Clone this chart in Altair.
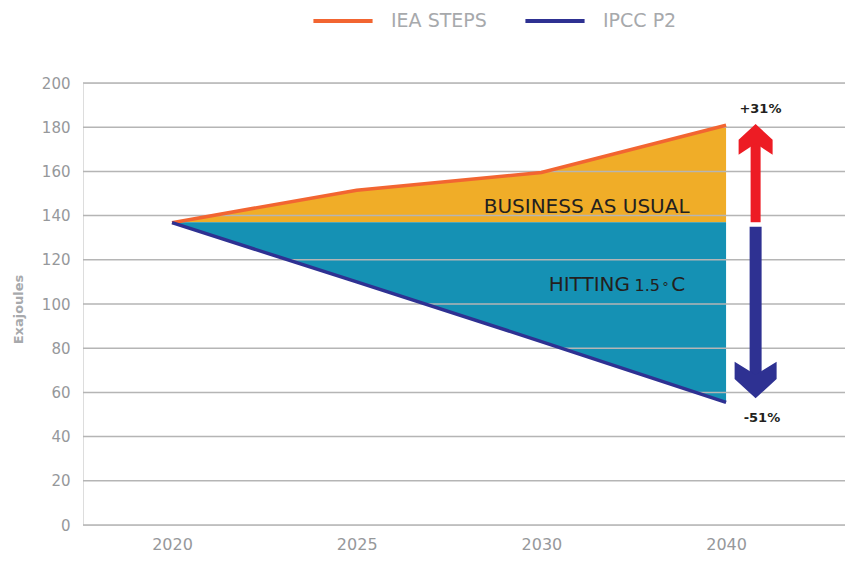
import altair as alt
import pandas as pd

years = ["2020", "2025", "2030", "2040"]
iea_steps = [136.8, 151.5, 159.5, 180.9]
ipcc_p2 = [136.8, 110, 83, 55.5]
baseline = 137
y_ticks = [0, 20, 40, 60, 80, 100, 120, 140, 160, 180, 200]
series_names = ["IEA STEPS", "IPCC P2"]
series_colors = ["#F26531", "#2E3192"]
change_labels = ["+31%", "-51%"]

FONT = "DejaVu Sans"
GRAY = "#96989B"
DARK = "#231F20"

idx = list(range(len(years)))
lines_df = pd.DataFrame(
    {"idx": idx * 2, "value": iea_steps + ipcc_p2,
     "series": [series_names[0]] * len(years) + [series_names[1]] * len(years)}
)
band_df = pd.DataFrame({"idx": idx, "iea": iea_steps, "ipcc": ipcc_p2, "base": [baseline] * len(years)})
grid_df = pd.DataFrame({"y": y_ticks})

x_scale = alt.Scale(domain=[-0.482, 3.644], nice=False, zero=False)
y_scale = alt.Scale(domain=[0, 200], nice=False)

label_expr = "[" + ",".join(f"'{y}'" for y in years) + "][datum.value]"

x_enc = alt.X("idx:Q", scale=x_scale,
              axis=alt.Axis(values=idx, labelExpr=label_expr, grid=False, domain=False, ticks=False,
                            labelFont=FONT, labelFontSize=16, labelColor=GRAY,
                            labelPadding=11, title=None))

orange_area = alt.Chart(band_df).mark_area(color="#F0AD28", opacity=1).encode(
    x=x_enc,
    y=alt.Y("iea:Q", scale=y_scale,
            axis=alt.Axis(values=y_ticks, grid=False, domain=False, ticks=False,
                          labelFont=FONT, labelFontSize=15, labelColor=GRAY,
                          labelPadding=13, title="Exajoules", titleFont=FONT, titleFontSize=13,
                          titleFontWeight="bold", titleColor="#A7A9AC", titleAngle=270,
                          titleAlign="center", titleBaseline="middle",
                          titleX=-65, titleY=226)),
    y2="base:Q",
)
teal_area = alt.Chart(band_df).mark_area(color="#1591B4", opacity=1).encode(
    x="idx:Q", y="ipcc:Q", y2="base:Q"
)

grid = alt.Chart(grid_df).mark_rule(color="#B5B5B5", strokeWidth=1.5).encode(y="y:Q")

lines = alt.Chart(lines_df).mark_line(strokeWidth=3.5).encode(
    x="idx:Q",
    y="value:Q",
    color=alt.Color("series:N", scale=alt.Scale(domain=series_names, range=series_colors),
                    legend=alt.Legend(title=None, orient="none", legendX=228, legendY=-94,
                                      direction="horizontal", symbolType="stroke",
                                      symbolStrokeWidth=4, symbolSize=3500,
                                      labelFont=FONT, labelFontSize=19, labelColor="#A7A9AC",
                                      labelOffset=16, columnPadding=30)),
)

# arrows
arrow_x = 3.160
red_shaft = alt.Chart(pd.DataFrame({"x": [arrow_x], "y": [137], "y2": [173]})).mark_rule(
    color="#ED1C24", strokeWidth=10, strokeCap="butt").encode(x="x:Q", y="y:Q", y2="y2:Q")
red_head = alt.Chart(pd.DataFrame({"x": [arrow_x], "y": [174.5]})).mark_point(
    shape="M0,-0.9 L1,0.02 L1,0.9 L0,0.25 L-1,0.9 L-1,0.02 Z",
    size=1156, filled=True, opacity=1, color="#ED1C24", strokeWidth=0).encode(x="x:Q", y="y:Q")
navy_shaft = alt.Chart(pd.DataFrame({"x": [arrow_x], "y": [135], "y2": [66]})).mark_rule(
    color="#2E3192", strokeWidth=12, strokeCap="butt").encode(x="x:Q", y="y:Q", y2="y2:Q")
navy_head = alt.Chart(pd.DataFrame({"x": [arrow_x], "y": [65.6]})).mark_point(
    shape="M0,0.87 L1,-0.05 L1,-0.87 L0,-0.25 L-1,-0.87 L-1,-0.05 Z",
    size=1764, filled=True, opacity=1, color="#2E3192", strokeWidth=0).encode(x="x:Q", y="y:Q")

pct_df = pd.DataFrame({"x": [3.186, 3.194], "y": [186.6, 46.8], "t": change_labels})
pct = alt.Chart(pct_df).mark_text(font=FONT, fontSize=13, fontWeight="bold", color=DARK,
                                  baseline="alphabetic", align="center").encode(
    x="x:Q", y="y:Q", text="t:N")

bau = alt.Chart(pd.DataFrame({"x": [2.245], "y": [141.2], "t": ["BUSINESS AS USUAL"]})).mark_text(
    font=FONT, fontSize=20, color=DARK, baseline="alphabetic", align="center").encode(
    x="x:Q", y="y:Q", text="t:N")
hit_df = pd.DataFrame({
    "x": [2.480, 2.504, 2.654, 2.703],
    "y": [105.9, 105.9, 105.9, 105.9],
    "t": ["HITTING", "1.5", "°", "C"],
})
hit_main = alt.Chart(hit_df.iloc[[0]]).mark_text(
    font=FONT, fontSize=20, color=DARK, baseline="alphabetic", align="right").encode(
    x="x:Q", y="y:Q", text="t:N")
hit_num = alt.Chart(hit_df.iloc[[1]]).mark_text(
    font=FONT, fontSize=16, color=DARK, baseline="alphabetic", align="left").encode(
    x="x:Q", y="y:Q", text="t:N")
hit_deg = alt.Chart(hit_df.iloc[[2]]).mark_text(
    font=FONT, fontSize=13, color=DARK, baseline="alphabetic", align="left").encode(
    x="x:Q", y="y:Q", text="t:N")
hit_c = alt.Chart(hit_df.iloc[[3]]).mark_text(
    font=FONT, fontSize=20, color=DARK, baseline="alphabetic", align="left").encode(
    x="x:Q", y="y:Q", text="t:N")

chart = alt.layer(
    orange_area, teal_area, grid, lines, red_shaft, red_head, navy_shaft, navy_head,
    pct, bau, hit_main, hit_num, hit_deg, hit_c
).properties(
    width=762, height=442,
    padding={"left": 75, "top": 75, "right": 0, "bottom": 28},
    autosize="none",
).configure_view(stroke=None).configure(background="white")

chart.save("out.html", embed_options={"renderer": "svg", "actions": False})
